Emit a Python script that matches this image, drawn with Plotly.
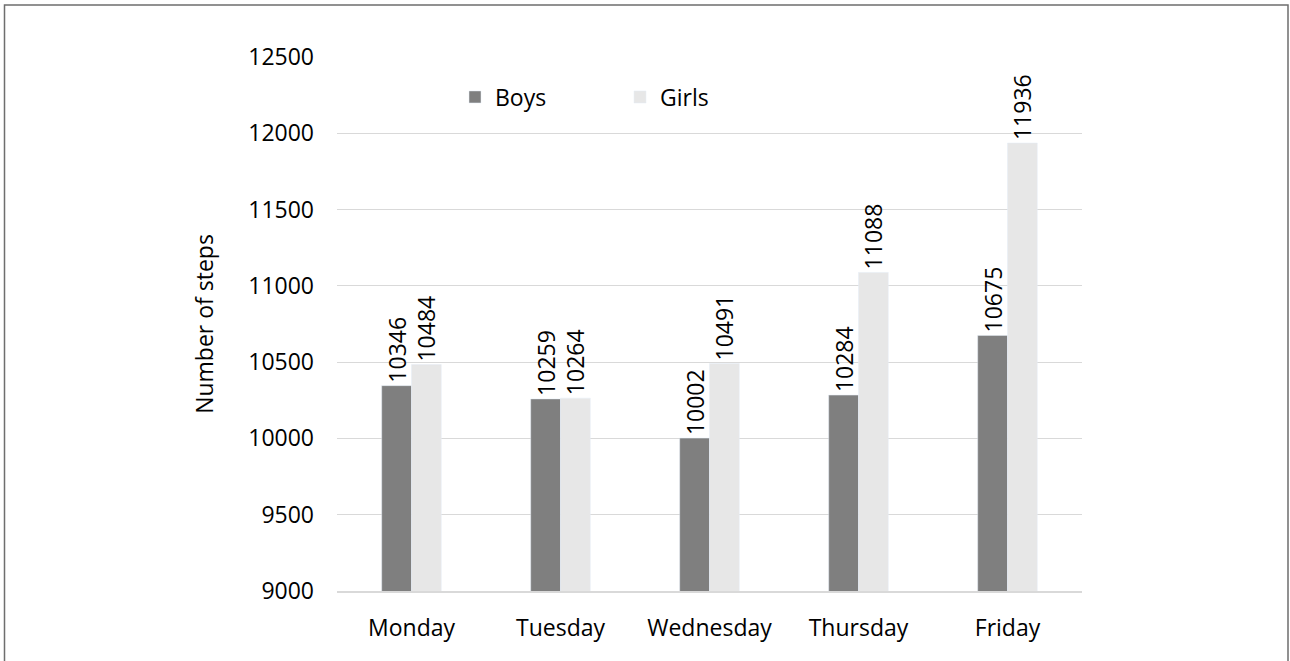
import plotly.graph_objects as go

days = ["Monday", "Tuesday", "Wednesday", "Thursday", "Friday"]
boys = [10346, 10259, 10002, 10284, 10675]
girls = [10484, 10264, 10491, 11088, 11936]
y_ticks = [9000, 9500, 10000, 10500, 11000, 11500, 12000, 12500]

FONT = "Open Sans"
FS = 23

fig = go.Figure()
fig.add_trace(go.Bar(name="Boys", x=days, y=boys, marker_color="#7f7f7f",
                     text=[str(v) for v in boys], textposition="outside",
                     textangle=-90, cliponaxis=False,
                     textfont=dict(family=FONT, size=FS, color="#000000")))
fig.add_trace(go.Bar(name="Girls", x=days, y=girls, marker_color="#e7e7e7",
                     text=[str(v) for v in girls], textposition="outside",
                     textangle=-90, cliponaxis=False,
                     textfont=dict(family=FONT, size=FS, color="#000000")))

L, R, T, B = 337, 208, 57, 70
W, H = 1290, 661
pw, ph = W - L - R, H - T - B

fig.update_layout(
    width=W, height=H,
    margin=dict(l=L, r=R, t=T, b=B),
    paper_bgcolor="white", plot_bgcolor="white",
    barmode="group", bargap=0.6, bargroupgap=0,
    font=dict(family=FONT, size=FS, color="#000000"),
    uniformtext=dict(minsize=FS - 2, mode="show"),
    legend=dict(orientation="h", x=(455 - L) / pw, y=(H - B - 97) / ph,
                xanchor="left", yanchor="middle", entrywidth=120,
                font=dict(family=FONT, size=FS), bgcolor="rgba(0,0,0,0)",
                itemwidth=30, traceorder="normal"),
    showlegend=True,
)
fig.update_yaxes(range=[9000, 12500], tickvals=y_ticks,
                 ticktext=[str(v) for v in y_ticks],
                 showgrid=True, gridcolor="#d9d9d9", gridwidth=1.3,
                 zeroline=False, showline=False, ticklabelstandoff=22,
                 title=dict(text="Number of steps", standoff=28,
                            font=dict(family=FONT, size=FS)))
fig.update_xaxes(showline=True, linecolor="#d9d9d9", linewidth=1.5,
                 showgrid=False, ticks="", ticklabelstandoff=16)

fig.add_shape(type="rect", xref="paper", yref="paper",
              x0=(4.5 - L) / pw, x1=(W - 2 - L) / pw,
              y0=(H - B - 680) / ph, y1=(H - B - 5) / ph,
              line=dict(color="#6e6e6e", width=1.5), fillcolor="rgba(0,0,0,0)",
              layer="above")

fig.write_html("out.html", config={"displayModeBar": False},
               post_script="document.body.style.margin='0';document.body.style.overflow='hidden';")
